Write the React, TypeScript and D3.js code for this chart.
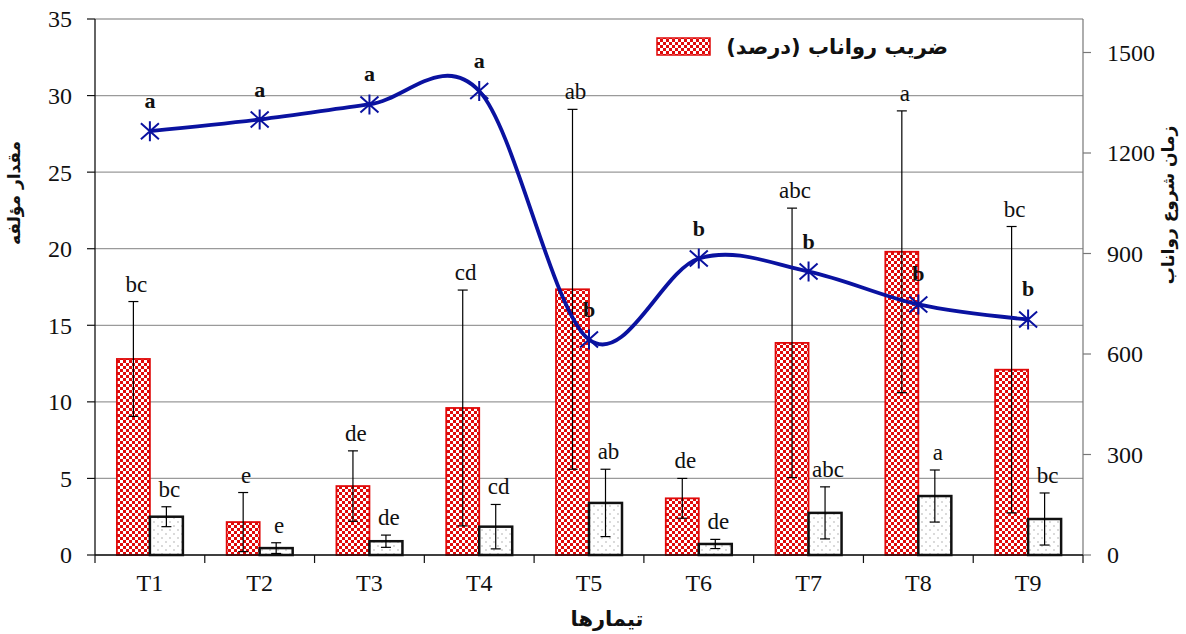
import React from 'react';
import * as d3 from 'd3';

const categories = ['T1', 'T2', 'T3', 'T4', 'T5', 'T6', 'T7', 'T8', 'T9'];
const runoffCoef = [12.8, 2.15, 4.5, 9.6, 17.35, 3.7, 13.85, 19.8, 12.1];
const runoffCoefErr = [3.75, 1.93, 2.3, 7.7, 11.75, 1.3, 8.8, 9.2, 9.35];
const runoffCoefLetters = ['bc', 'e', 'de', 'cd', 'ab', 'de', 'abc', 'a', 'bc'];
const secondValues = [2.5, 0.45, 0.9, 1.85, 3.4, 0.72, 2.75, 3.85, 2.35];
const secondErr = [0.65, 0.35, 0.4, 1.45, 2.2, 0.3, 1.7, 1.7, 1.7];
const secondLetters = ['bc', 'e', 'de', 'cd', 'ab', 'de', 'abc', 'a', 'bc'];
const startTime = [1265, 1300, 1345, 1385, 643, 885, 846, 748, 703];
const startTimeLetters = ['a', 'a', 'a', 'a', 'b', 'b', 'b', 'b', 'b'];
const leftTicks = [0, 5, 10, 15, 20, 25, 30, 35];
const rightTicks = [0, 300, 600, 900, 1200, 1500];

const legendLabel = 'ضریب رواناب (درصد)';
const leftTitle = 'مقدار مؤلفه';
const rightTitle = 'زمان شروع رواناب';
const xTitle = 'تیمارها';

const W = 1186;
const H = 634;
const L = 95;
const R = 1083;
const T = 19;
const B = 555;

const SERIF = '"Liberation Serif", "Times New Roman", serif';
const ARABIC = '"DejaVu Sans", sans-serif';
const RED = '#e00a0a';
const BLUE = '#0a12a0';

export default function App() {
  const x = d3.scaleBand<string>().domain(categories).range([L, R]).padding(0);
  const inner = d3.scaleBand<string>().domain(['coef', 'other']).range([-33, 33]).padding(0);
  const yL = d3.scaleLinear().domain([0, 35]).range([B, T]);
  const yR = d3.scaleLinear().domain([0, 1600]).range([B, T]);
  const cx = (c: string) => (x(c) as number) + x.bandwidth() / 2;

  const linePath = d3
    .line<number>()
    .x((_, i) => cx(categories[i]))
    .y((d) => yR(d))
    .curve(d3.curveCardinal.tension(0))(startTime) as string;

  const series = [
    { key: 'coef', values: runoffCoef, err: runoffCoefErr, letters: runoffCoefLetters },
    { key: 'other', values: secondValues, err: secondErr, letters: secondLetters },
  ];

  const bounds = [L, ...categories.map((c) => (x(c) as number) + x.bandwidth())];

  return (
    <svg width={W} height={H} style={{ position: 'absolute', left: 0, top: 0, display: 'block', background: '#fff' }}>
      <defs>
        <pattern id="checker" width="6" height="6" patternUnits="userSpaceOnUse">
          <rect width="6" height="6" fill={RED} shapeRendering="crispEdges" />
          <rect x="0" y="0" width="3" height="3" fill="#fff" shapeRendering="crispEdges" />
          <rect x="3" y="3" width="3" height="3" fill="#fff" shapeRendering="crispEdges" />
        </pattern>
        <pattern id="dots" width="8" height="8" patternUnits="userSpaceOnUse">
          <rect width="8" height="8" fill="#fff" />
          <circle cx="2" cy="2" r="0.7" fill="#999" />
          <circle cx="6" cy="6" r="0.7" fill="#999" />
        </pattern>
      </defs>

      {/* gridlines */}
      {leftTicks.map((t) => (
        <line key={'g' + t} x1={L} x2={R} y1={yL(t)} y2={yL(t)} stroke={t === 35 ? '#777' : '#9a9a9a'} strokeWidth={1.2} />
      ))}

      {/* bars */}
      {series.map((s) =>
        categories.map((c, i) => {
          const bx = cx(c) + (inner(s.key) as number);
          const bw = inner.bandwidth();
          const y0 = yL(s.values[i]);
          return (
            <rect
              key={s.key + c}
              x={bx}
              y={y0}
              width={bw}
              height={B - y0}
              fill={s.key === 'coef' ? 'url(#checker)' : 'url(#dots)'}
              stroke={s.key === 'coef' ? RED : '#111'}
              strokeWidth={s.key === 'coef' ? 1.8 : 2.5}
            />
          );
        })
      )}

      {/* error bars */}
      {series.map((s) =>
        categories.map((c, i) => {
          const ex = cx(c) + (inner(s.key) as number) + inner.bandwidth() / 2;
          const hi = yL(s.values[i] + s.err[i]);
          const lo = yL(Math.max(0, s.values[i] - s.err[i]));
          return (
            <g key={'e' + s.key + c} stroke="#000" strokeWidth={1.2}>
              <line x1={ex} x2={ex} y1={hi} y2={lo} />
              <line x1={ex - 5} x2={ex + 5} y1={hi} y2={hi} />
              <line x1={ex - 5} x2={ex + 5} y1={lo} y2={lo} />
            </g>
          );
        })
      )}

      {/* bar letters */}
      {series.map((s) =>
        categories.map((c, i) => {
          const ex = cx(c) + (inner(s.key) as number) + inner.bandwidth() / 2;
          const hi = yL(s.values[i] + s.err[i]);
          return (
            <text key={'l' + s.key + c} x={ex + 3} y={hi - 10} textAnchor="middle" fontFamily={SERIF} fontSize={23} fill="#111">
              {s.letters[i]}
            </text>
          );
        })
      )}

      {/* axes */}
      <line x1={L} x2={L} y1={T} y2={B} stroke="#111" strokeWidth={1.3} />
      <line x1={R} x2={R} y1={T} y2={B} stroke="#777" strokeWidth={1.2} />
      <line x1={L} x2={R} y1={B} y2={B} stroke="#111" strokeWidth={1.5} />
      {leftTicks.map((t) => (
        <g key={'lt' + t}>
          <line x1={L - 8} x2={L} y1={yL(t)} y2={yL(t)} stroke="#111" strokeWidth={1.2} />
          <text x={72} y={yL(t)} dy="0.35em" textAnchor="end" fontFamily={SERIF} fontSize={24} fill="#111">
            {t}
          </text>
        </g>
      ))}
      {rightTicks.map((t) => (
        <g key={'rt' + t}>
          <line x1={R} x2={R + 8} y1={yR(t)} y2={yR(t)} stroke="#777" strokeWidth={1.2} />
          <text x={1107} y={yR(t)} dy="0.35em" textAnchor="start" fontFamily={SERIF} fontSize={24} fill="#111">
            {t}
          </text>
        </g>
      ))}
      {bounds.map((b, i) => (
        <line key={'xt' + i} x1={b} x2={b} y1={B} y2={B + 8} stroke="#111" strokeWidth={1.2} />
      ))}
      {categories.map((c) => (
        <text key={'xl' + c} x={cx(c)} y={591} textAnchor="middle" fontFamily={SERIF} fontSize={24} fill="#111">
          {c}
        </text>
      ))}

      {/* line */}
      <path d={linePath} fill="none" stroke={BLUE} strokeWidth={3.8} />
      {startTime.map((v, i) => {
        const px = cx(categories[i]);
        const py = yR(v);
        return (
          <path
            key={'m' + i}
            transform={`translate(${px},${py})`}
            d="M-9,-8L9,8M-9,8L9,-8M0,-10L0,10"
            stroke={BLUE}
            strokeWidth={2}
            fill="none"
          />
        );
      })}
      {startTime.map((v, i) => (
        <text
          key={'ml' + i}
          x={cx(categories[i])}
          y={yR(v) - 23}
          textAnchor="middle"
          fontFamily={SERIF}
          fontWeight="bold"
          fontSize={22}
          fill="#111"
        >
          {startTimeLetters[i]}
        </text>
      ))}

      {/* legend */}
      <rect x={657} y={38} width={53} height={17} fill="url(#checker)" stroke={RED} strokeWidth={1.5} />
      <text x={948} y={47} dy="0.35em" textAnchor="start" direction="rtl" style={{ direction: 'rtl', unicodeBidi: 'embed' }} fontFamily={ARABIC} fontWeight="bold" fontSize={21} fill="#111">
        {legendLabel}
      </text>

      {/* axis titles */}
      <text
        transform={`translate(14,193) rotate(-90)`}
        textAnchor="middle"
        dy="0.35em"
        style={{ direction: 'rtl' }}
        fontFamily={ARABIC}
        fontWeight="bold"
        fontSize={17}
        fill="#111"
      >
        {leftTitle}
      </text>
      <text
        transform={`translate(1168,205) rotate(-90)`}
        textAnchor="middle"
        dy="0.35em"
        style={{ direction: 'rtl' }}
        fontFamily={ARABIC}
        fontWeight="bold"
        fontSize={17}
        fill="#111"
      >
        {rightTitle}
      </text>
      <text x={607} y={619} textAnchor="middle" dy="0.35em" style={{ direction: 'rtl' }} fontFamily={ARABIC} fontWeight="bold" fontSize={21} fill="#111">
        {xTitle}
      </text>
    </svg>
  );
}
